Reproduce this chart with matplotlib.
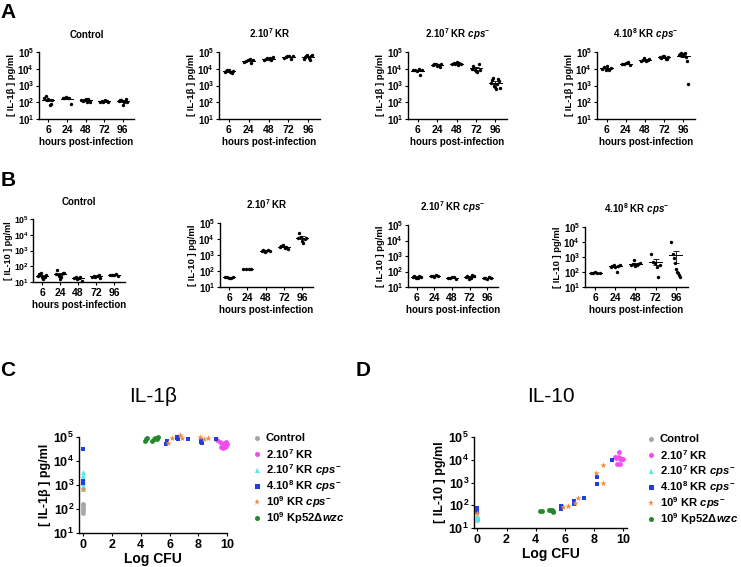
"""Cytokine kinetics (IL-1b / IL-10) and cytokine vs bacterial load."""
import matplotlib
matplotlib.use("Agg")
import matplotlib.pyplot as plt
import numpy as np
from matplotlib.lines import Line2D
from matplotlib.ticker import FixedLocator, FixedFormatter

plt.rcParams["font.family"] = ["Liberation Sans", "DejaVu Sans"]
plt.rcParams["font.weight"] = "bold"
plt.rcParams["mathtext.fontset"] = "custom"
plt.rcParams["mathtext.rm"] = "Liberation Sans:bold"
plt.rcParams["mathtext.it"] = "Liberation Sans:bold:italic"
plt.rcParams["mathtext.bf"] = "Liberation Sans:bold"

W, H = 741, 567

hours = ["6", "24", "48", "72", "96"]

# ---- panel A: IL-1b (pg/ml) per time point ----
a_control = [[180, 250, 140, 160, 70, 75, 130],
             [180, 190, 200, 170, 180, 80],
             [140, 120, 130, 150, 100, 160, 110],
             [110, 120, 100, 130, 115, 105],
             [120, 140, 130, 70, 100, 150, 110]]
a_kr = [[6e3, 7e3, 8e3, 9e3, 6.5e3, 5.5e3, 7.5e3],
        [2.5e4, 3e4, 3.5e4, 4e4, 2.2e4, 3.2e4],
        [3.5e4, 4e4, 4.5e4, 3.8e4, 4.2e4, 3.2e4, 5e4],
        [4.5e4, 5e4, 5.5e4, 6e4, 4e4, 5.8e4],
        [4e4, 5e4, 6e4, 7e4, 4.5e4, 3.5e4, 5.5e4, 6.5e4]]
a_kr_cps = [[8e3, 9e3, 7e3, 1e4, 4e3, 8.5e3],
            [1.6e4, 1.8e4, 2e4, 1.5e4, 1.7e4, 1.3e4, 1.9e4],
            [2e4, 2.2e4, 1.8e4, 2.5e4, 1.7e4, 2.3e4, 1.9e4],
            [1e4, 1.5e4, 8e3, 7e3, 6e3, 1.8e4, 9e3],
            [1.5e3, 2e3, 3e3, 1e3, 800, 600, 1.2e3, 2.5e3, 1.8e3, 700]]
a_kr_cps_hi = [[1e4, 1.2e4, 9e3, 1.5e4, 8e3, 1.1e4],
               [2e4, 1.8e4, 2.2e4, 2.5e4, 1.7e4],
               [3e4, 3.5e4, 4.5e4, 2.8e4, 3.2e4, 3.8e4],
               [5e4, 4.5e4, 5.5e4, 6e4, 4e4, 3.8e4, 5.2e4],
               [7e4, 8e4, 9e4, 6e4, 7.5e4, 8.5e4, 5e4, 3e4, 1.3e3]]

# ---- panel B: IL-10 (pg/ml) per time point ----
b_control = [[25, 30, 35, 20, 15, 22, 28],
             [30, 55, 25, 15, 20, 35, 40],
             [18, 20, 15, 17, 22, 12],
             [22, 25, 20, 24, 28, 18],
             [27, 28, 26, 30, 25]]
b_kr = [[40, 45, 38, 35, 42],
        [130, 140, 125, 135],
        [1.8e3, 2e3, 1.6e3, 1.7e3, 2.2e3, 1.9e3],
        [3e3, 3.5e3, 4e3, 2.8e3, 3.3e3, 2.5e3],
        [1.2e4, 2.5e4, 1.3e4, 7e3, 6e3, 1e4, 1.1e4]]
b_kr_cps = [[45, 50, 40, 38, 55, 42],
            [50, 55, 45, 60, 48],
            [40, 38, 42, 45, 35],
            [45, 55, 35, 40, 60, 50],
            [38, 40, 35, 42, 36]]
b_kr_cps_hi = [[85, 90, 95, 88, 92],
               [230, 250, 300, 200, 100, 270, 280],
               [300, 350, 600, 250, 280, 320, 400],
               [1.5e3, 500, 400, 200, 50, 300],
               [1e4, 1.5e3, 800, 400, 150, 100, 80, 60, 50]]

# ---- panels C/D: cytokine vs log CFU ----
groups = ["Control", "2.10$^{7}$ KR", "2.10$^{7}$ KR $cps^{-}$",
          "4.10$^{8}$ KR $cps^{-}$", "10$^{9}$ KR $cps^{-}$", "10$^{9}$ Kp52Δ$wzc$"]
colors = ["#a6a6a6", "#f04cf0", "#5ae6e6", "#1f3fe0", "#f08a3c", "#22882a"]
markers = ["o", "o", "^", "s", "*", "o"]

c_x = [[0, 0, 0, 0, 0],
       [9.3, 9.5, 9.6, 9.7, 9.75, 9.8, 9.85, 9.9, 9.95, 10.0],
       [0, 0, 0, 0, 0, 0, 0, 0],
       [0, 0, 0, 5.75, 5.8, 6.5, 6.55, 6.6, 7.3, 8.2, 8.2, 8.25, 9.2],
       [0, 5.9, 6.2, 6.7, 6.9, 8.1, 8.4, 8.7],
       [4.3, 4.35, 4.4, 4.8, 4.9, 5.0, 5.1, 5.2]]
c_y = [[70, 90, 110, 140, 160],
       [7.5e4, 6e4, 4e4, 3.5e4, 4.5e4, 5.5e4, 3.8e4, 6e4, 4.2e4, 5e4],
       [700, 900, 1200, 1500, 2000, 2500, 3500, 800],
       [3.2e4, 1.4e3, 1.2e3, 5e4, 7e4, 9e4, 1e5, 8e4, 8e4, 6e4, 7.5e4, 5.5e4, 8e4],
       [650, 5.5e4, 9e4, 1.2e5, 9.5e4, 1e5, 8.5e4, 9.5e4],
       [6.5e4, 8e4, 9e4, 7e4, 8e4, 9e4, 8.5e4, 1e5]]

d_x = [[0, 0],
       [9.4, 9.5, 9.55, 9.6, 9.7, 9.75, 9.8, 9.8, 9.9, 10.0],
       [0, 0, 0],
       [0, 0, 0, 5.7, 5.75, 5.8, 6.6, 6.6, 7.3, 8.2, 8.2, 9.2],
       [0, 5.9, 6.2, 6.7, 6.9, 8.15, 8.6, 8.6],
       [4.3, 4.4, 4.9, 5.0, 5.1, 5.15, 5.2]]
d_y = [[22, 28],
       [1.3e4, 1.2e4, 6.5e3, 1.3e4, 2.3e4, 1.1e4, 1.2e4, 6.5e3, 1.1e4, 1.1e4],
       [30, 35, 25],
       [75, 65, 50, 70, 90, 80, 150, 110, 200, 1.8e3, 900, 1e4],
       [45, 80, 90, 120, 200, 2.5e3, 6e3, 1e3],
       [55, 58, 62, 60, 62, 50, 55]]

fig = plt.figure(figsize=(W / 100, H / 100), dpi=100)


def add_ax(x0, x1, y0, y1):
    return fig.add_axes([x0 / W, 1 - y1 / H, (x1 - x0) / W, (y1 - y0) / H])


def log_yaxis(ax, size):
    ax.set_yscale("log")
    ax.set_ylim(10, 1e5)
    vals = [10, 100, 1e3, 1e4, 1e5]
    ax.yaxis.set_major_locator(FixedLocator(vals))
    ax.yaxis.set_major_formatter(FixedFormatter(
        [r"$\mathbf{10^{%d}}$" % k for k in range(1, 6)]))
    ax.yaxis.set_minor_locator(FixedLocator([]))
    ax.tick_params(axis="y", labelsize=size, length=2.5, width=0.8, pad=1)
    for s in ("top", "right"):
        ax.spines[s].set_visible(False)
    for s in ("left", "bottom"):
        ax.spines[s].set_linewidth(1.0)


def strip_panel(ax, data, title, ylabel):
    for i, vals in enumerate(data, start=1):
        vals = np.asarray(vals, dtype=float)
        n = len(vals)
        offs = np.linspace(-0.22, 0.22, n)
        ax.scatter(i + offs, vals, s=6, color="black", linewidths=0,
                   zorder=3, clip_on=False)
        m = vals.mean()
        sem = vals.std(ddof=1) / np.sqrt(n)
        ax.plot([i - 0.32, i + 0.32], [m, m], color="black", lw=0.7)
        ax.errorbar(i, m, yerr=sem, fmt="none", ecolor="black",
                    elinewidth=0.6, capsize=2.5, capthick=0.6)
    log_yaxis(ax, 7)
    ax.set_xlim(0.5, 5.6)
    ax.set_xticks(range(1, 6))
    ax.set_xticklabels(hours)
    ax.tick_params(axis="x", labelsize=7.5, length=2.5, width=0.8, pad=2)
    ax.set_title(title, fontsize=7, fontweight="bold", pad=10)
    ax.set_ylabel(ylabel, fontsize=6.8, fontweight="bold", labelpad=1)
    ax.set_xlabel("hours post-infection", fontsize=7, fontweight="bold",
                  labelpad=1.5)


il1b = "[ IL-1β ] pg/ml"
il10 = "[ IL-10 ] pg/ml"
titles = ["Control", "2.10$^{7}$ KR", "2.10$^{7}$ KR $cps^{-}$",
          "4.10$^{8}$ KR $cps^{-}$"]

a_pos = [(39, 134, 52, 119), (219, 320, 52, 119),
         (408, 507, 52, 119), (597, 695, 52, 119)]
for pos, data, t in zip(a_pos, [a_control, a_kr, a_kr_cps, a_kr_cps_hi], titles):
    strip_panel(add_ax(*pos), data, t, il1b)

b_pos = [(33, 125, 219, 282), (220, 313, 223, 287),
         (408, 498, 225, 287), (585, 688, 227, 287)]
for pos, data, t in zip(b_pos, [b_control, b_kr, b_kr_cps, b_kr_cps_hi], titles):
    ax = add_ax(*pos)
    strip_panel(ax, data, t, il10)
    if pos[0] < 100:
        # narrow left margin: smaller tick labels, label pushed to the edge
        ax.tick_params(axis="y", labelsize=6.3, pad=0.5)
        ax.yaxis.label.set_fontsize(6.5)
        ax.yaxis.set_label_coords(-20 / (pos[1] - pos[0]), 0.5)


def cfu_panel(ax, xs, ys, title, ylabel, xlim, leg_x, leg_y):
    for x, y, c, mk in zip(xs, ys, colors, markers):
        ms = 22 if mk == "*" else 12
        ax.scatter(x, y, s=ms, color=c, marker=mk, linewidths=0,
                   zorder=3, clip_on=False)
    log_yaxis(ax, 9)
    ax.set_xlim(*xlim)
    ax.set_xticks([0, 2, 4, 6, 8, 10])
    ax.tick_params(axis="x", labelsize=9, length=2.5, width=0.8, pad=1.5)
    ax.set_ylabel(ylabel, fontsize=9, fontweight="bold", labelpad=2)
    ax.set_xlabel("Log CFU", fontsize=10, fontweight="bold", labelpad=1)
    ax.set_title(title, fontsize=15, fontweight="normal", pad=25)
    # legend rows, 16 px apart
    for i, (lab, c, mk) in enumerate(zip(groups, colors, markers)):
        y = 1 - (leg_y + 16 * i) / H
        fig.add_artist(Line2D([leg_x / W], [y], transform=fig.transFigure,
                              ls="none", marker=mk, color=c,
                              markersize=5 if mk == "*" else 3.6,
                              markeredgewidth=0))
        fig.text((leg_x + 9) / W, y, lab, fontsize=8.1, fontweight="bold",
                 ha="left", va="center")


ax_c = add_ax(79, 227, 437, 533)
cfu_panel(ax_c, c_x, c_y, "IL-1β", il1b, (-0.3, 10.0), 257, 438)
ax_d = add_ax(474, 627, 437, 528)
cfu_panel(ax_d, d_x, d_y, "IL-10", il10, (-0.23, 10.25), 651, 439)

for letter, x, y in [("A", 8, 12), ("B", 8, 181), ("C", 8, 370), ("D", 363, 370)]:
    fig.text(x / W, 1 - y / H, letter, fontsize=15, fontweight="bold",
             ha="center", va="center")

fig.savefig("out.png", dpi=100)
